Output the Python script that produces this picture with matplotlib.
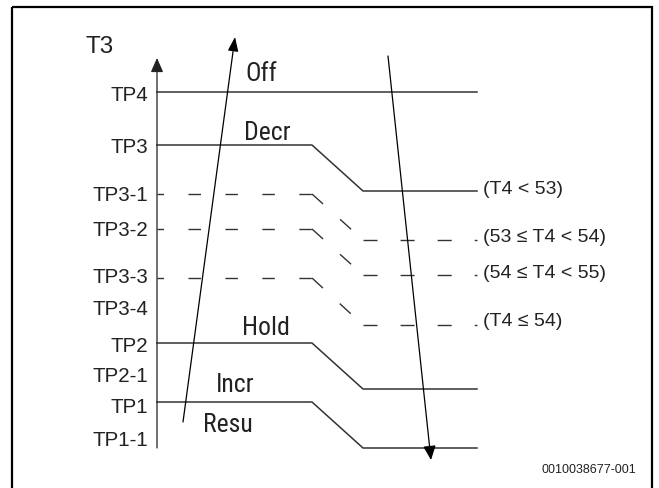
import matplotlib.pyplot as plt
from matplotlib.patches import Rectangle
from matplotlib import font_manager

plt.rcParams['lines.scale_dashes'] = False

# T3 set points (tick labels on the vertical axis) and where they sit
level_names = ['TP4', 'TP3', 'TP3-1', 'TP3-2', 'TP3-3', 'TP3-4', 'TP2', 'TP2-1', 'TP1', 'TP1-1']
level_pos = [94, 146, 194, 229, 276, 308, 345, 375, 406, 439]

# threshold lines: level before the T4 drop, level after it, dashed or not
line_before = [92, 145, 194, 229, 278, 343, 402]
line_after = [92, 191, 240, 275, 325, 389, 448]
line_dashed = [False, False, True, True, True, False, False]

# zone names between the lines
zone_names = ['Off', 'Decr', 'Hold', 'Incr', 'Resu']
zone_x = [245, 244, 242, 216, 203]
zone_y = [81, 140, 335, 392, 432]

# T4 conditions at the right end of the lines
cond_names = ['(T4 < 53)', '(53 ≤ T4 < 54)', '(54 ≤ T4 < 55)', '(T4 ≤ 54)']
cond_y = [190, 238, 274, 322]

x_axis = 157
x_bend = [312, 363]
x_end = 477

# an upright condensed face for the zone names, if one is installed
condensed = None
for f in font_manager.fontManager.ttflist:
    tag = (f.name + ' ' + f.fname).lower()
    if ('condensed' in tag or 'narrow' in tag) and f.style == 'normal' \
            and f.weight in (400, 'normal', 'regular') and 'italic' not in tag \
            and 'oblique' not in tag and 'bold' not in tag and 'light' not in tag:
        condensed = f.fname
        if 'liberation' in tag or 'arial' in tag:
            break

fig = plt.figure(figsize=(6.59, 4.88), dpi=100)
ax = fig.add_axes([0, 0, 1, 1])
ax.set_xlim(0, 659)
ax.set_ylim(488, 0)
ax.axis('off')

# frame
ax.add_patch(Rectangle((12, 7), 640, 490, fill=False, lw=1.6, ec='black'))

sans = ['Liberation Sans', 'DejaVu Sans']
ink = '#222222'
line_col = '#333333'

# vertical T3 axis
ax.annotate('', xy=(x_axis, 58), xytext=(x_axis, 448),
            arrowprops=dict(arrowstyle='-|>,head_length=0.86,head_width=0.38',
                            lw=0.9, color=ink, shrinkA=0, shrinkB=0,
                            mutation_scale=10))
ax.text(86, 53, 'T3', fontsize=17.5, family=sans, ha='left', va='baseline', color=ink)

for name, y in zip(level_names, level_pos):
    ax.text(148, y + 7, name, fontsize=14.8, family=sans, ha='right', va='baseline',
            color=ink)

for yb, ya, dash in zip(line_before, line_after, line_dashed):
    if dash:
        # each piece gets its own dash phase, like the drawing
        ax.plot([x_axis, x_bend[0]], [yb, yb], color=line_col, lw=1.0,
                linestyle=(4.3, (9.0, 17.6)))
        ax.plot([x_bend[0], x_bend[1]], [yb, ya], color=line_col, lw=1.0,
                linestyle=(0, (10.7, 16.5)))
        ax.plot([x_bend[1], x_end], [ya, ya], color=line_col, lw=1.0,
                linestyle=(0, (10.1, 16.6)))
    else:
        ax.plot([x_axis, x_bend[0], x_bend[1], x_end], [yb, yb, ya, ya],
                color=line_col, lw=1.1)

for name, x, y in zip(zone_names, zone_x, zone_y):
    if condensed:
        fp = font_manager.FontProperties(fname=condensed, size=18.5)
        ax.text(x, y, name, fontproperties=fp, ha='left', va='baseline', color=ink)
    else:
        ax.text(x, y, name, fontsize=16.5, family=sans, ha='left', va='baseline',
                color=ink)

for name, y in zip(cond_names, cond_y):
    ax.text(483, y, name, fontsize=14, family=sans, ha='left', va='center', color=ink)

# rising and falling T3 arrows
ax.annotate('', xy=(235, 37), xytext=(183, 422),
            arrowprops=dict(arrowstyle='-|>,head_length=0.86,head_width=0.32',
                            lw=0.9, color='black', shrinkA=0, shrinkB=0,
                            mutation_scale=10))
ax.annotate('', xy=(431, 460), xytext=(388, 56),
            arrowprops=dict(arrowstyle='-|>,head_length=0.86,head_width=0.38',
                            lw=0.9, color='black', shrinkA=0, shrinkB=0,
                            mutation_scale=10))

ax.text(542, 473, '0010038677-001', fontsize=9, family=sans, ha='left', va='baseline',
        color=ink)

fig.savefig('out.png', dpi=100)
